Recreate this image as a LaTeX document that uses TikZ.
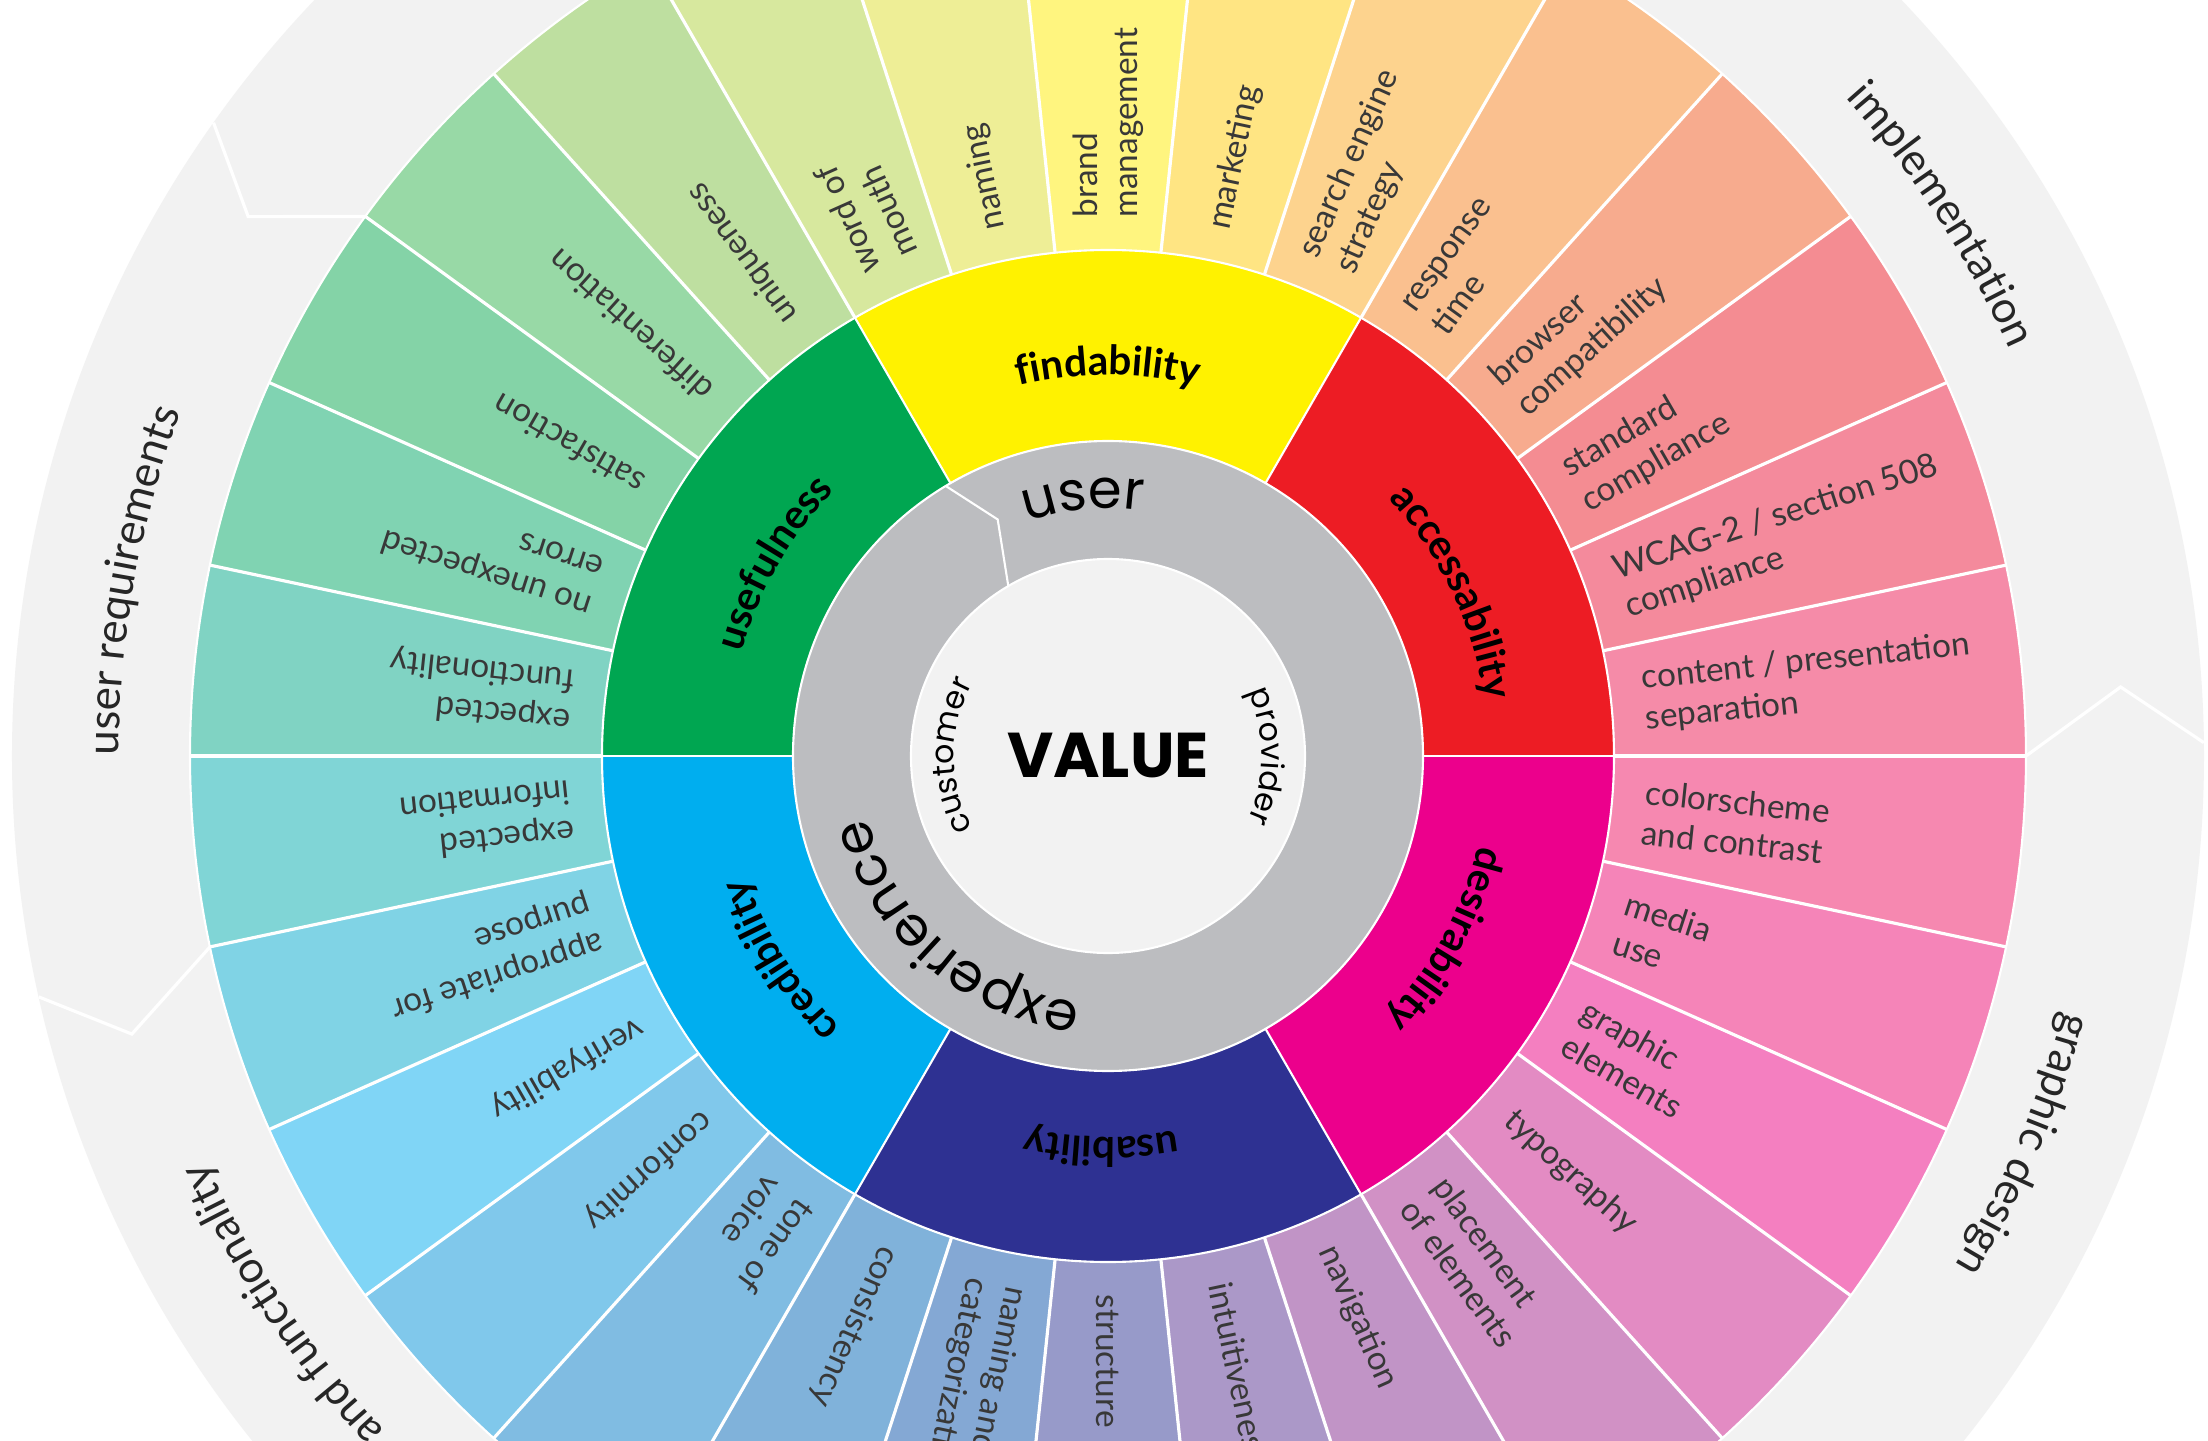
\documentclass[tikz,border=0pt]{standalone}
\usepackage{fontspec}
\setmainfont{Lato}
\newfontfamily\geofont{Poppins}
\usepackage[copies]{contour}
\contourlength{0.5pt}
\usetikzlibrary{decorations.text}

\definecolor{ringgray}{HTML}{F2F2F2}
\definecolor{coregray}{HTML}{BCBDC0}
\definecolor{accesscol}{HTML}{ED1C24}
\definecolor{findcol}{HTML}{FFF200}
\definecolor{usefulcol}{HTML}{00A651}
\definecolor{credcol}{HTML}{00AEEF}
\definecolor{usabcol}{HTML}{2E3192}
\definecolor{desircol}{HTML}{EC008C}

\newcommand\ringfont{\fontsize{12.5}{15}\selectfont\color{black!85}}
\newcommand\facetfont{\fontsize{11.5}{13}\selectfont\bfseries}
\DeclareRobustCommand\halo[1]{\contour{white}{#1}}

% ring piece: inner radius, outer radius, from, to, colour
\newcommand\wedgefill[5]{%
  \fill[#5] (#3:#1) arc[start angle=#3, end angle=#4, radius=#1]
    -- (#4:#2) arc[start angle=#4, end angle=#3, radius=#2] -- cycle;}
% text bent along a circle: radius, centre angle, half span, format, text
\newcommand\arclabel[5]{%
  \path[decorate, decoration={text along path, text align=center, text={|#4|#5}}]
    (#2+#3:#1) arc[start angle=#2+#3, end angle=#2-#3, radius=#1];}

\tikzset{
    % white lines between the pieces
    gapline/.style={
           white,
           line width=0.9pt},
    % labels of the thirty outer pieces
    seglabel/.style={
           anchor=west,
           align=left,
           inner sep=0pt,
           text=black!78,
           font=\fontsize{9.5}{11.5}\selectfont}
}

\begin{document}
\begin{tikzpicture}
\useasboundingbox (-11.08,-6.84) rectangle (11.00,7.56);
\clip (-11.08,-6.84) rectangle (11.00,7.56);
\fill[white] (-11.08,-6.84) rectangle (11.00,7.56);

% outer ring
\fill[ringgray] (0,0) circle (10.96);

% thirty outer pieces
\foreach \hex [count=\i from 0] in {F58BA8,F48A9C,F48C92,F7AB8E,FAC08F,FDD38E,FFE583,FFF57F,EEEE96,D7E89E,
    BEDFA0,98D9A6,84D3A7,80D3B2,80D3C3,80D5D6,80D3E5,80D5F6,80C8EB,80BCE2,
    80B2DA,84A8D4,979AC9,AB98C8,C194C6,D191C5,E38BC3,F47FC0,F584B8,F688B0}
  {\definecolor{segcol}{HTML}{\hex}
   \wedgefill{5.06}{9.18}{12*\i}{12*\i+12}{segcol}}

% six qualities
\foreach \col [count=\i from 0] in {accesscol,findcol,usefulcol,credcol,usabcol,desircol}
  {\wedgefill{3.15}{5.06}{60*\i}{60*\i+60}{\col}}

% core
\fill[coregray] (0,0) circle (3.15);
\fill[ringgray] (0,0) circle (1.97);

% separators
\foreach \a in {0,12,...,348}
  \draw[gapline] (\a:5.06) -- (\a:9.18);
\foreach \a in {0,60,...,300}
  \draw[gapline, line width=0.6pt] (\a:3.15) -- (\a:5.06);
\foreach \r in {1.97,3.15,5.06,9.18}
  \draw[gapline, line width=0.6pt] (0,0) circle (\r);
\foreach \a in {0,144,192}
  \draw[gapline] (\a:9.18) -- (\a+3.9:10.15) -- (\a+0.7:10.96);
\draw[gapline, line width=0.6pt] (121:3.15) -- (115:2.61) -- (120.4:1.97);

% outer piece labels
\foreach \txt [count=\i from 0] in {{content / presentation\\separation},{WCAG-2 / section 508\\compliance},
    {standard\\compliance},{browser\\compatibility},{response\\time},{search engine\\strategy},
    {marketing},{brand\\management},{naming},{word of\\mouth},{uniqueness},{differentiation},
    {satisfaction},{no unexpected\\errors},{expected\\functionality},{expected\\information},
    {appropriate for\\purpose},{verifyability},{conformity},{tone of\\voice},{consistency},
    {naming and\\categorization},{structure},{intuitiveness},{navigation},{placement\\of elements},
    {typography},{graphic\\elements},{media\\use},{colorscheme\\and contrast}}
  {\pgfmathsetmacro\a{12*\i+6}
   \node[seglabel, rotate=\a] (seg\i) at (\a:5.38) {\txt};}

% quality labels
\arclabel{3.81}{90}{30}{\facetfont\halo}{findability}
\arclabel{3.81}{25.5}{32}{\facetfont\halo}{accessability}
\arclabel{3.81}{-28.5}{32}{\facetfont\halo}{desirability}
\arclabel{3.81}{269}{30}{\facetfont\halo}{usability}
\arclabel{3.81}{212}{30}{\facetfont\halo}{credibility}
\arclabel{3.81}{150}{30}{\facetfont\halo}{usefulness}

% core labels
\node[font=\geofont\bfseries\fontsize{18}{21}\selectfont] (value) at (0,0) {VALUE};
\arclabel{2.48}{95.5}{40}{\geofont\fontsize{15.5}{18}\selectfont}{user}
\arclabel{2.48}{229}{60}{\geofont\fontsize{15.5}{18}\selectfont}{experience}
\arclabel{1.54}{180}{60}{\geofont\fontsize{9}{11}\selectfont}{customer}
\arclabel{1.54}{0}{60}{\geofont\fontsize{9}{11}\selectfont}{provider}

% outer ring labels
\arclabel{9.89}{169.8}{25}{\ringfont}{user requirements}
\arclabel{9.89}{33}{25}{\ringfont}{implementation}
\arclabel{9.89}{-23}{25}{\ringfont}{graphic design}
\arclabel{9.89}{213.6}{25}{\ringfont}{and functionality}
\end{tikzpicture}
\end{document}
